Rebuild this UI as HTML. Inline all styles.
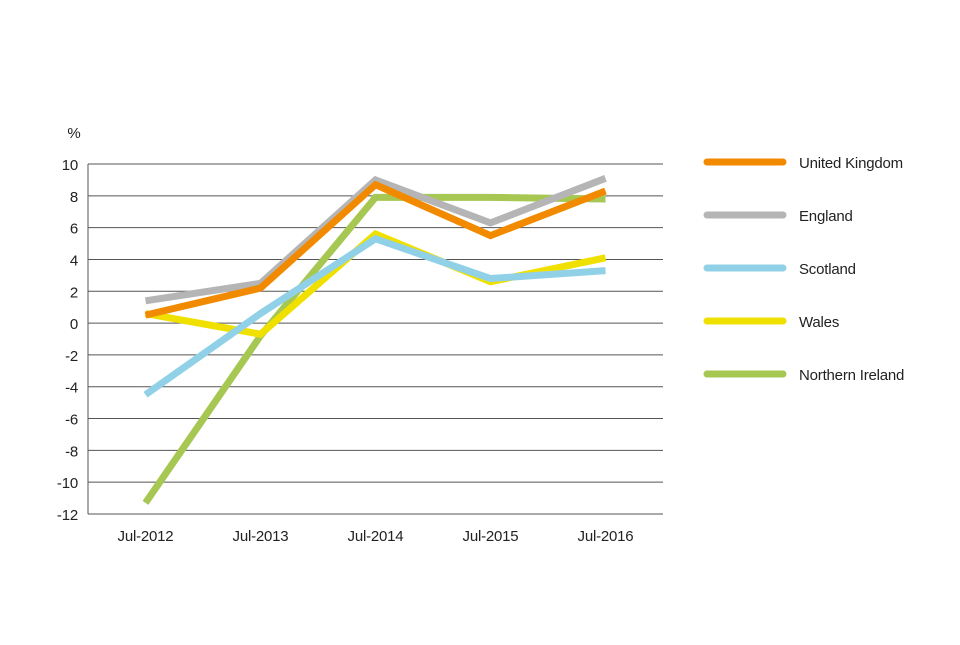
<!DOCTYPE html>
<html><head><meta charset="utf-8"><style>
body{margin:0;background:#fff;}
svg text{font-family:"Liberation Sans",sans-serif;font-size:15px;letter-spacing:-0.2px;fill:#222;}
</style></head><body>
<svg id="chart" width="960" height="640">
<g id="grid"></g>
<g id="series"></g>
<g id="legend"></g>
<text x="74" y="138" text-anchor="middle">%</text>
</svg>
<script>
const categories=["Jul-2012","Jul-2013","Jul-2014","Jul-2015","Jul-2016"];
const seriesNames=["United Kingdom","England","Scotland","Wales","Northern Ireland"];
const ukValues=[0.5,2.2,8.7,5.5,8.3];
const englandValues=[1.4,2.5,9.0,6.3,9.1];
const scotlandValues=[-4.5,0.6,5.3,2.8,3.3];
const walesValues=[0.6,-0.7,5.6,2.6,4.1];
const niValues=[-11.3,-0.8,7.9,7.9,7.8];
const yTicks=[10,8,6,4,2,0,-2,-4,-6,-8,-10,-12];
const colors=["#f28a00","#b5b5b5","#91d1e8","#f0e000","#a6c752"];
const allValues=[ukValues,englandValues,scotlandValues,walesValues,niValues];
const NS="http://www.w3.org/2000/svg";
const X0=88,X1=663,Y0=164,Y1=514,yMax=10,yMin=-12;
const y=v=>Y0+(yMax-v)*(Y1-Y0)/(yMax-yMin);
const step=(X1-X0)/categories.length;
const x=i=>X0+step*(i+0.5);
function mk(t,a,p){const e=document.createElementNS(NS,t);for(const k in a)e.setAttribute(k,a[k]);p.appendChild(e);return e;}
const grid=document.getElementById('grid');
yTicks.forEach(v=>{
 const l=mk('line',{x1:X0,x2:X1,y1:y(v),y2:y(v),stroke:'#555','stroke-width':1},grid);
 
 
 const t=mk('text',{x:78,y:y(v)+6,'text-anchor':'end'},grid);t.textContent=v;
 
 
});
const ax=mk('line',{x1:X0,x2:X0,y1:Y0,y2:Y1,stroke:'#555','stroke-width':1},grid);


categories.forEach((c,i)=>{
 const t=mk('text',{x:x(i),y:541,'text-anchor':'middle'},grid);t.textContent=c;
 
 
});
const ser=document.getElementById('series');
[4,3,2,1,0].forEach(s=>{
 const pts=allValues[s].map((v,i)=>x(i)+','+y(v)).join(' ');
 const p=mk('polyline',{points:pts,fill:'none',stroke:colors[s],'stroke-width':7,'stroke-linejoin':'miter','stroke-linecap':'butt'},ser);
 
 
});
const lg=document.getElementById('legend');
seriesNames.forEach((n,i)=>{
 const yy=162+i*53;
 const l=mk('line',{x1:707,x2:783,y1:yy,y2:yy,stroke:colors[i],'stroke-width':7,'stroke-linecap':'round'},lg);
 
 
 const t=mk('text',{x:799,y:yy+6},lg);t.textContent=n;
 
 
});
</script>
</body></html>
